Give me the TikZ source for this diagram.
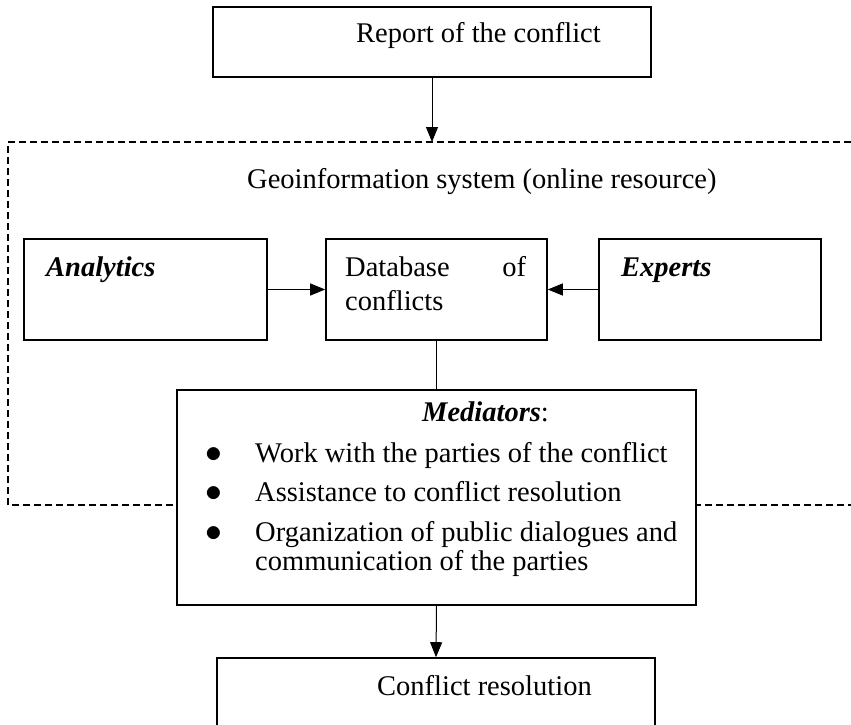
\documentclass[tikz,border=0pt]{standalone}
\usepackage{fontspec}
\setmainfont{Liberation Serif}
\usetikzlibrary{arrows.meta}

\tikzset{
	box/.style={draw, line width=1.6pt, fill=white, inner sep=0pt},
	txt/.style={anchor=base west, inner sep=0pt, font=\fontsize{28.5}{29}\selectfont},
	link/.style={line width=1pt},
	arr/.style={link, -{Triangle[length=15pt, width=12pt]}},
	frame/.style={line width=1.1pt, dash pattern=on 7pt off 4pt}
}
\newcommand{\dotitem}{\makebox[50pt][l]{\scalebox{1.35}{$\bullet$}}}

\begin{document}
\begin{tikzpicture}[x=1pt, y=-1pt]
	\path[use as bounding box, clip] (0,0) rectangle (851,725);
	
	% dashed frame of the online resource
	\draw[frame] (851,142) -- (8,142) -- (8,505) -- (851,505);
	\coordinate (gistop) at (432,142);
	\node[txt] (gislbl) at (247,188) {Geoinformation system (online resource)};
	
	\node[box, minimum width=438pt, minimum height=70pt] (report) at (432,42) {};
	\node[txt] (reportlbl) at (356,43) {Report of the conflict};
	
	\node[box, minimum width=243pt, minimum height=101pt] (analytics) at (145.5,289.5) {};
	\node[txt] (analyticslbl) at (46,276) {\textbf{\textit{Analytics}}};
	
	\node[box, minimum width=221pt, minimum height=101pt] (database) at (436.5,289.5) {};
	\node[txt, text width=181pt, align=flush left] (databaselbl) at (345,276) {Database\hfill of\\[5pt]conflicts};
	
	\node[box, minimum width=222pt, minimum height=101pt] (experts) at (710,289.5) {};
	\node[txt] (expertslbl) at (621,276) {\textbf{\textit{Experts}}};
	
	\node[box, minimum width=519pt, minimum height=215pt] (mediators) at (436.5,497.5) {};
	\node[txt] (mediatorslbl) at (422,421) {\textbf{\textit{Mediators}}:};
	\node[txt, text width=480pt, align=flush left] (tasks) at (205,462) {%
		\dotitem Work with the parties of the conflict\\[10pt]
		\dotitem Assistance to conflict resolution\\[11pt]
		\dotitem Organization of public dialogues and\\
		\hspace*{50pt}communication of the parties};
	
	\node[box, minimum width=438pt, minimum height=100pt] (resolution) at (436,708) {};
	\node[txt] (resolutionlbl) at (377,695) {Conflict resolution};
	
	\draw[arr] (report.south) -- (gistop);
	\draw[arr] (analytics.east) -- (database.west);
	\draw[arr] (experts.west) -- (database.east);
	\draw[link] (database.south) -- (mediators.north);
	\draw[arr] (mediators.south) -- (resolution.north);
\end{tikzpicture}
\end{document}
